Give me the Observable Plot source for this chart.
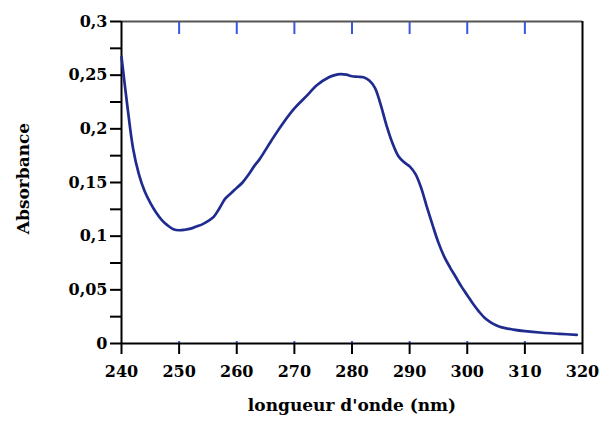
<!DOCTYPE html>
<html>
<head>
<meta charset="utf-8">
<script src="https://cdn.jsdelivr.net/npm/d3@7"></script>
<script src="https://cdn.jsdelivr.net/npm/@observablehq/plot@0.6"></script>
<style>
  html, body { margin: 0; padding: 0; background: #fff; }
  #chart { width: 603px; height: 421px; }
</style>
</head>
<body>
<div id="chart"></div>
<script>
// Wavelength (nm) and absorbance
const wavelength = [240, 241, 242, 243, 244, 245, 246, 247, 248, 249, 250, 251, 252, 253, 254, 255, 256, 257, 258, 259, 260, 261, 262, 263, 264, 266, 268, 270, 272, 274, 276, 277, 278, 279, 280, 281, 282, 283, 284, 285, 286, 287, 288, 289, 290, 291, 292, 293, 294, 295, 296, 297, 298, 299, 300, 301, 302, 303, 304, 305, 306, 308, 310, 313, 316, 319];
const absorbance = [0.267, 0.222, 0.182, 0.158, 0.142, 0.131, 0.122, 0.115, 0.110, 0.1065, 0.1055, 0.106, 0.107, 0.109, 0.111, 0.114, 0.118, 0.126, 0.135, 0.140, 0.145, 0.150, 0.157, 0.165, 0.172, 0.189, 0.205, 0.219, 0.230, 0.241, 0.248, 0.250, 0.251, 0.2505, 0.249, 0.2485, 0.248, 0.245, 0.238, 0.222, 0.203, 0.187, 0.175, 0.169, 0.165, 0.158, 0.145, 0.127, 0.110, 0.094, 0.081, 0.071, 0.062, 0.053, 0.045, 0.037, 0.030, 0.024, 0.020, 0.017, 0.015, 0.013, 0.0115, 0.010, 0.009, 0.008];

const xTicks = [240, 250, 260, 270, 280, 290, 300, 310, 320];
const xInnerTicks = [250, 260, 270, 280, 290, 300, 310];
const yTicks = [0, 0.05, 0.1, 0.15, 0.2, 0.25, 0.3];
const yMinorTicks = [0.025, 0.075, 0.125, 0.175, 0.225, 0.275];
const xDomain = [240, 320];
const yDomain = [0, 0.3];
const xLabel = "longueur d'onde (nm)";
const yLabel = "Absorbance";

const data = wavelength.map((w, i) => ({w, a: absorbance[i]}));
const fmt = d => String(d).replace(".", ",");

const chart = Plot.plot({
  width: 603,
  height: 421,
  marginLeft: 121,
  marginRight: 21,
  marginTop: 21,
  marginBottom: 78,
  style: {fontFamily: "'DejaVu Serif', serif", fontWeight: "bold", fontSize: "16px", color: "#000", background: "#fff", overflow: "visible"},
  x: {domain: xDomain},
  y: {domain: yDomain},
  marks: [
    // top frame (gray) and right frame
    Plot.ruleY([yDomain[1]], {stroke: "#555", strokeWidth: 2}),
    Plot.ruleX([xDomain[1]], {stroke: "#000", strokeWidth: 2}),
    // inner blue ticks on top
    Plot.axisX(xInnerTicks, {anchor: "top", tickSize: 12, dy: 12, stroke: "#3a55e0", strokeWidth: 2, fill: "none", label: null}),
    // small blue marks on bottom axis
    Plot.axisX(xInnerTicks, {anchor: "bottom", tickSize: 2, dy: -2, stroke: "#3a55e0", strokeWidth: 2, fill: "none", label: null}),
    // bottom axis
    Plot.axisX(xTicks, {anchor: "bottom", tickSize: 11, tickPadding: 11, strokeWidth: 2, tickFormat: d => String(d), label: null}),
    // left axis
    Plot.axisY(yMinorTicks, {anchor: "left", tickSize: 11, strokeWidth: 2, fill: "none", label: null}),
    Plot.axisY(yTicks, {anchor: "left", tickSize: 11, tickPadding: 3, strokeWidth: 2, tickFormat: fmt, label: null}),
    Plot.ruleX([xDomain[0]], {stroke: "#000", strokeWidth: 2}),
    Plot.ruleY([yDomain[0]], {stroke: "#000", strokeWidth: 2}),
    // data
    Plot.line(data, {x: "w", y: "a", stroke: "#1f2b8e", strokeWidth: 2.7, curve: "catmull-rom"}),
    // axis titles
    Plot.text([xLabel], {frameAnchor: "bottom", dy: 67, text: d => d, fontSize: 17, fontWeight: "bold"}),
    Plot.text([yLabel], {frameAnchor: "left", textAnchor: "middle", dx: -98, dy: -4, rotate: -90, text: d => d, fontSize: 17, fontWeight: "bold"})
  ]
});
document.getElementById("chart").appendChild(chart);
</script>
</body>
</html>
